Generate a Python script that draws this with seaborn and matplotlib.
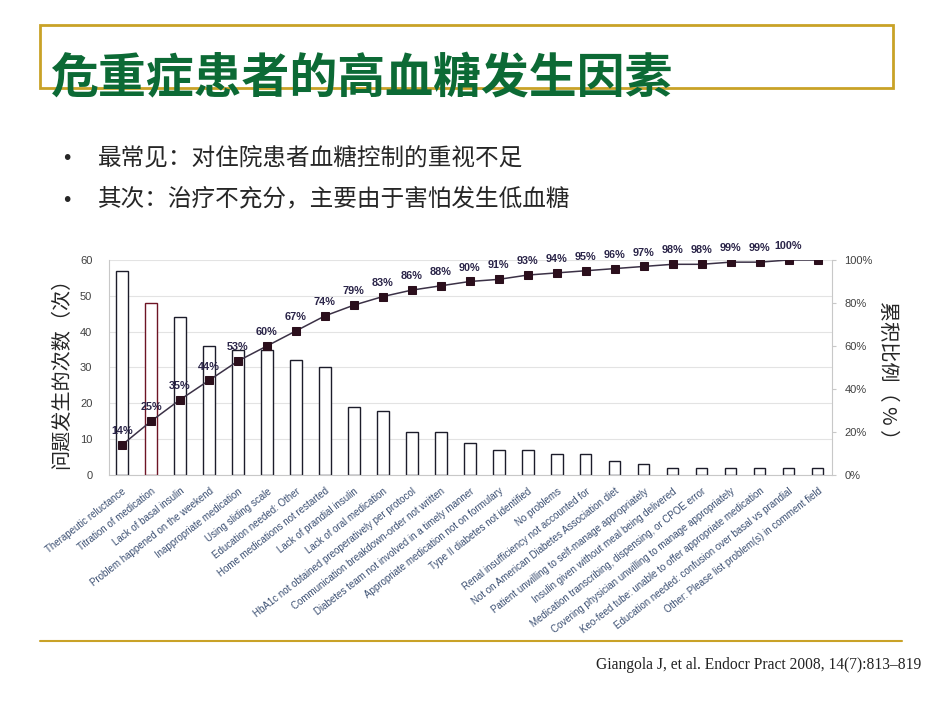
import numpy as np
import pandas as pd
import matplotlib
matplotlib.use("Agg")
import matplotlib.pyplot as plt
from matplotlib.patches import Rectangle
from matplotlib.lines import Line2D
import seaborn as sns


#%% Data
categories = [
    "Therapeutic reluctance",
    "Titration of medication",
    "Lack of basal insulin",
    "Problem happened on the weekend",
    "Inappropriate medication",
    "Using sliding scale",
    "Education needed: Other",
    "Home medications not restarted",
    "Lack of prandial insulin",
    "Lack of oral medication",
    "HbA1c not obtained preoperatively per protocol",
    "Communication breakdown-order not written",
    "Diabetes team not involved in a timely manner",
    "Appropriate medication not on formulary",
    "Type II diabetes not identified",
    "No problems",
    "Renal insufficiency not accounted for",
    "Not on American Diabetes Association diet",
    "Patient unwilling to self-manage appropriately",
    "Insulin given without meal being delivered",
    "Medication transcribing, dispensing, or CPOE error",
    "Covering physician unwilling to manage appropriately",
    "Keo-feed tube: unable to offer appropriate medication",
    "Education needed: confusion over basal vs prandial",
    "Other: Please list problem(s) in comment field",
]

counts = [57, 48, 44, 36, 35, 35, 32, 30, 19, 18, 12, 12, 9, 7, 7, 6, 6, 4, 3,
          2, 2, 2, 2, 2, 2]

cum_pct = [14, 25, 35, 44, 53, 60, 67, 74, 79, 83, 86, 88, 90, 91, 93, 94, 95,
           96, 97, 98, 98, 99, 99, 100, 100]

# only the first 24 points carry a label in the original
pct_labels = ["14%", "25%", "35%", "44%", "53%", "60%", "67%", "74%", "79%",
              "83%", "86%", "88%", "90%", "91%", "93%", "94%", "95%", "96%",
              "97%", "98%", "98%", "99%", "99%", "100%"]

left_yticks  = [0, 10, 20, 30, 40, 50, 60]
right_yticks = [0, 20, 40, 60, 80, 100]

title_text   = "危重症患者的高血糖发生因素"
bullet_1     = "最常见：对住院患者血糖控制的重视不足"
bullet_2     = "其次：治疗不充分，主要由于害怕发生低血糖"
ylabel_left  = "问题发生的次数（次）"
ylabel_right = "累积比例（ % ）"
citation     = "Giangola J, et al. Endocr Pract 2008, 14(7):813\u2013819"

df = pd.DataFrame({"category": categories, "count": counts,
                   "idx": np.arange(len(categories)), "cum": cum_pct})


#%% Style
sns.set_style("white")
plt.rcParams['font.family'] = ['Noto Sans CJK SC', 'DejaVu Sans']

CJK         = ['Noto Sans CJK SC', 'DejaVu Sans']
LatinFont   = ['Liberation Sans', 'DejaVu Sans']

Color_Title     = "#0c6a35"
Color_Gold      = "#c9a227"
Color_Tick      = "#404040"
Color_Cat       = "#3b4f72"
Color_Pct       = "#2a2448"
Color_Line      = "#3b3146"
Color_Marker    = "#2b0f1c"
Color_Grid      = "#e3e3e3"
Color_Spine     = "#c8c8c8"

W, H = 950, 713
Fig = plt.figure(figsize=[9.5, 7.13], dpi=100)

# Axis position (pixels -> figure fraction)
ax_left, ax_right = 109, 832
ax_top, ax_bottom = 260, 475
ax = Fig.add_axes([ax_left / W, 1 - ax_bottom / H,
                   (ax_right - ax_left) / W, (ax_bottom - ax_top) / H])


#%% Bars
sns.barplot(ax=ax, data=df, x="idx", y="count", color="white",
            edgecolor="#1c1c2a", linewidth=1.0, width=0.4,
            saturation=1, errorbar=None)
ax.patches[1].set_edgecolor("#6e1424")

ax.set_xlim(-0.45, len(categories) - 0.5)
ax.set_ylim(0, 60)
ax.set_yticks(left_yticks)
ax.set_yticklabels([str(t) for t in left_yticks], fontsize=8,
                   color=Color_Tick, family=LatinFont)
ax.set_xticks(np.arange(len(categories)))
ax.set_xticklabels(categories, rotation=38, ha="right", va="top",
                   rotation_mode="anchor", fontsize=7, color=Color_Cat,
                   family=LatinFont)
ax.set_xticks(np.arange(len(categories)) - 0.5, minor=True)
ax.tick_params(axis="x", which="major", length=0, pad=8)
ax.tick_params(axis="x", which="minor", length=3, color=Color_Spine, width=0.8)
ax.tick_params(axis="y", length=0, pad=12)
ax.set_xlabel("")
ax.set_ylabel("")
ax.yaxis.grid(True, color=Color_Grid, linewidth=0.8)
ax.set_axisbelow(True)
ax.spines['top'].set_visible(False)
ax.spines['right'].set_visible(False)
ax.spines[['left', 'bottom']].set_color(Color_Spine)
ax.spines[['left', 'bottom']].set_linewidth(0.8)


#%% Cumulative line
ax2 = ax.twinx()
sns.lineplot(ax=ax2, data=df, x="idx", y="cum", color=Color_Line,
             linewidth=1.1, marker="s", markersize=6,
             markerfacecolor=Color_Marker, markeredgecolor=Color_Marker)
ax2.set_ylim(0, 100)
ax2.set_yticks(right_yticks)
ax2.set_yticklabels(["%d%%" % t for t in right_yticks], fontsize=8,
                    color=Color_Tick, family=LatinFont)
ax2.tick_params(axis="y", length=3, color=Color_Spine, pad=6)
ax2.set_ylabel("")
ax2.spines['top'].set_visible(False)
ax2.spines['left'].set_visible(False)
ax2.spines['bottom'].set_visible(False)
ax2.spines['right'].set_color(Color_Spine)
ax2.spines['right'].set_linewidth(0.8)
ax2.set_xlim(-0.45, len(categories) - 0.5)

for i, lab in enumerate(pct_labels):
    ax2.annotate(lab, (i, cum_pct[i]), xytext=(0, 10),
                 textcoords="offset points", ha="center", va="center",
                 fontsize=7.8, fontweight="bold", color=Color_Pct,
                 family=LatinFont)


#%% Slide text
Fig.patches.append(Rectangle((40 / W, 1 - 88 / H), (893 - 40) / W, (88 - 25) / H,
                             transform=Fig.transFigure, fill=False,
                             edgecolor=Color_Gold, linewidth=2))
Fig.lines.append(Line2D([40 / W, 902 / W], [1 - 641 / H, 1 - 641 / H],
                        transform=Fig.transFigure, color=Color_Gold,
                        linewidth=1.5))

Fig.text(50 / W, 1 - 79 / H, title_text, fontsize=34.5, fontweight="bold",
         color=Color_Title, ha="left", va="center", family=CJK)

Fig.text(67 / W, 1 - 158 / H, "\u2022", fontsize=14, ha="center", va="center",
         family=['DejaVu Sans'])
Fig.text(98 / W, 1 - 158 / H, bullet_1, fontsize=17, ha="left", va="center",
         family=CJK)
Fig.text(67 / W, 1 - 200 / H, "\u2022", fontsize=14, ha="center", va="center",
         family=['DejaVu Sans'])
Fig.text(98 / W, 1 - 200 / H, bullet_2, fontsize=17, ha="left", va="center",
         family=CJK)

Fig.text(62 / W, 1 - 368 / H, ylabel_left, fontsize=14.5, rotation=90,
         ha="center", va="center", family=CJK)
Fig.text(887 / W, 1 - 375 / H, ylabel_right, fontsize=14.5, rotation=-90,
         ha="center", va="center", family=CJK)

Fig.text(921 / W, 1 - 665 / H, citation, fontsize=11.2, ha="right", va="center",
         family=['Liberation Serif', 'DejaVu Serif'], color="#222222")

plt.savefig("out.png", dpi=100)
